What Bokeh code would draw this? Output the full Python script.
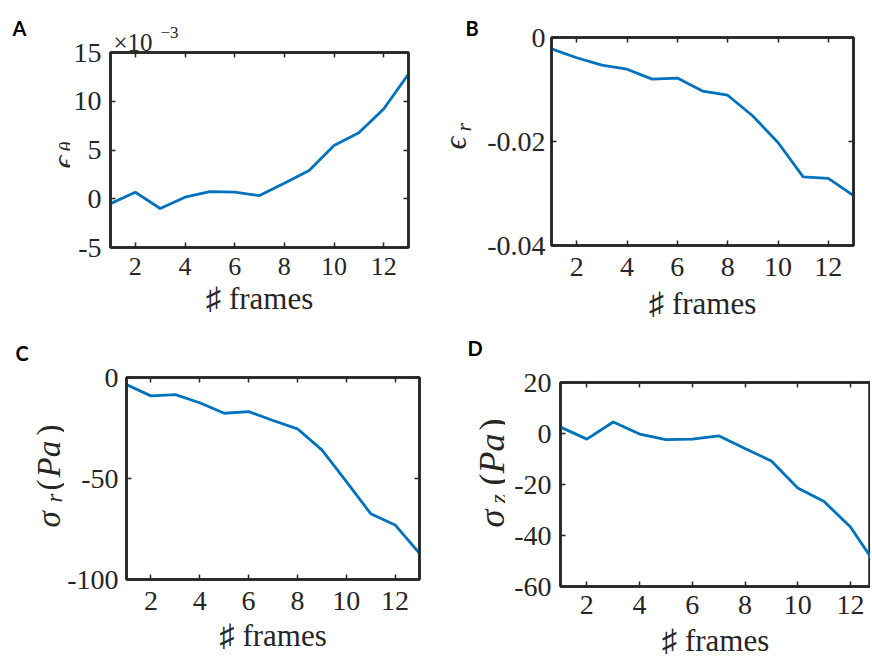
import math
from bokeh.plotting import figure
from bokeh.models import Label, LinearAxis, FixedTicker, Range1d
from bokeh.layouts import row, column
from bokeh.embed import file_html
from bokeh.resources import INLINE

# ---------------- data ----------------
frames = [1, 2, 3, 4, 5, 6, 7, 8, 9, 10, 11, 12, 13]
eps_theta_e3 = [-0.5, 0.67, -1.0, 0.16, 0.74, 0.67, 0.33, 1.6, 2.9, 5.46, 6.76, 9.2, 12.8]   # x 10^-3
eps_r = [-0.0022, -0.0039, -0.0053, -0.0061, -0.0080, -0.0078, -0.0103, -0.0111,
         -0.0151, -0.0202, -0.0268, -0.0271, -0.0304]
sigma_r = [-3.5, -9.1, -8.5, -12.5, -17.7, -16.9, -21.3, -25.4, -35.8, -51.4, -67.4, -73.0, -87.0]
sigma_z = [2.5, -2.2, 4.5, -0.2, -2.4, -2.2, -0.9, -5.9, -10.8, -21.4, -26.7, -36.7, -52.0]

x_tick_values = [2, 4, 6, 8, 10, 12]
x_tick_labels = ["2", "4", "6", "8", "10", "12"]
a_ytick_values = [-5, 0, 5, 10, 15]
a_ytick_labels = ["-5", "0", "5", "10", "15"]
b_ytick_values = [-0.04, -0.02, 0]
b_ytick_labels = ["-0.04", "-0.02", "0"]
c_ytick_values = [-100, -50, 0]
c_ytick_labels = ["-100", "-50", "0"]
d_ytick_values = [-60, -40, -20, 0, 20]
d_ytick_labels = ["-60", "-40", "-20", "0", "20"]

x_label = "\u266f frames"
panel_letters = ["A", "B", "C", "D"]

FRAME = "#262626"
LINE = "#0072BD"
SERIF = "Liberation Serif"
SANS_BOLD = "Lato"
HALF = math.pi / 2


def style_axis(ax, ticks, labels, size, standoff, show=True):
    ax.ticker = FixedTicker(ticks=ticks)
    ax.major_tick_in = 5
    ax.major_tick_out = 0
    ax.major_tick_line_color = FRAME
    ax.major_tick_line_width = 1.5
    ax.minor_tick_line_color = None
    ax.axis_line_color = FRAME
    ax.axis_line_width = 2.5
    ax.major_label_text_font = SERIF
    if show:
        ax.major_label_overrides = {t: s for t, s in zip(ticks, labels)}
        ax.major_label_text_color = FRAME
        ax.major_label_text_font_size = size
        ax.major_label_standoff = standoff
    else:
        ax.major_label_text_color = None
        ax.major_label_text_font_size = "0px"
        ax.major_label_standoff = 0


def lab(text, x, y, size, style="normal", font=SERIF, angle=0.0):
    # x, y in canvas pixels (from the top-left corner of the figure)
    return Label(x=x, y=y, x_units="canvas", y_units="canvas", text=text,
                 text_font=font, text_font_size=size, text_font_style=style,
                 text_color=FRAME if font == SERIF else "black",
                 angle=angle, text_align="left", text_baseline="alphabetic")


def strip(width, height, above, below):
    """A blank figure that only carries the panel letter and the y-axis title."""
    s = figure(width=width, height=height, x_range=Range1d(0, 1), y_range=Range1d(0, 1),
               x_axis_type=None, y_axis_type=None, output_backend="svg",
               toolbar_location=None, min_border=0)
    s.grid.visible = False
    s.outline_line_color = None
    s.background_fill_color = "white"
    s.border_fill_color = "white"
    for item in above:
        s.add_layout(item, "above")
    for item in below:
        s.add_layout(item, "below")
    return s


def make_panel(width, height, borders, x_end, y_rng, yticks, ylabels, data,
               xtick_size="28px", ytick_size="28px", xtick_standoff=12,
               xlabel_standoff=5, ytick_standoff=9, right_axis=True):
    l, r, t, b = borders
    p = figure(width=width, height=height,
               x_range=Range1d(1, x_end), y_range=Range1d(*y_rng),
               output_backend="svg", toolbar_location=None,
               min_border_left=l, min_border_right=r,
               min_border_top=t, min_border_bottom=b)
    p.grid.visible = False
    p.background_fill_color = "white"
    p.border_fill_color = "white"
    p.outline_line_color = FRAME
    p.outline_line_width = 2.5
    p.outline_line_alpha = 1.0
    p.line(frames, data, line_color=LINE, line_width=2.8)

    xa = p.xaxis[0]
    style_axis(xa, x_tick_values, x_tick_labels, xtick_size, xtick_standoff)
    xa.axis_label = x_label
    xa.axis_label_text_font = SERIF
    xa.axis_label_text_font_style = "normal"
    xa.axis_label_text_font_size = "31px"
    xa.axis_label_text_color = FRAME
    xa.axis_label_standoff = xlabel_standoff

    ya = p.yaxis[0]
    style_axis(ya, yticks, ylabels, ytick_size, ytick_standoff)

    top = LinearAxis()
    style_axis(top, x_tick_values, x_tick_labels, "0px", 0, show=False)
    p.add_layout(top, "above")
    if right_axis:
        rt = LinearAxis()
        style_axis(rt, yticks, ylabels, "0px", 0, show=False)
        p.add_layout(rt, "right")
    return p


# ---------------- panel A (page x 0..438, y 0..328) ----------------
sA = strip(70, 328,
           [lab(panel_letters[0], 12, 27, "20px", "bold", SANS_BOLD),
            lab("\u03f5", 62, 168, "32px", "italic", angle=HALF)],
           [lab("\u03b8", 66, 151, "20px", "italic", angle=HALF)])
pA = make_panel(368, 328, (40, 30, 52, 81), 13, (-5, 15), a_ytick_values, a_ytick_labels,
                eps_theta_e3, xtick_size="26px", xtick_standoff=10, xlabel_standoff=3)
pA.add_layout(lab("\u00d710", 43, 42, "25px"), "above")
pA.add_layout(lab("\u22123", 90, 32, "17px"), "right")

# ---------------- panel C (page x 0..438, y 328..667) ----------------
sC = strip(64, 339,
           [lab(panel_letters[2], 15, 24, "20px", "bold", SANS_BOLD),
            lab("\u03c3", 48, 199, "33px", "italic", angle=HALF),
            lab("r", 54, 174, "23px", "italic", angle=HALF)],
           [lab("(", 48, 162, "33px", "normal", angle=HALF),
            lab("Pa", 48, 149, "33px", "italic", angle=HALF),
            lab(")", 48, 107, "33px", "normal", angle=HALF)])
pC = make_panel(374, 339, (62, 19, 44, 88), 13, (-100, 0), c_ytick_values, c_ytick_labels,
                sigma_r, xtick_standoff=12, xlabel_standoff=5, ytick_standoff=8)

# ---------------- panel B (page x 438..870, y 0..331) ----------------
sB = strip(46, 331,
           [lab(panel_letters[1], 27, 27, "20px", "bold", SANS_BOLD),
            lab("\u03f5", 16, 149, "32px", "italic", angle=HALF)],
           [lab("r", 25, 131, "22px", "italic", angle=HALF)])
pB = make_panel(386, 331, (65, 17, 23, 86), 13, (-0.04, 0), b_ytick_values, b_ytick_labels,
                eps_r, xtick_standoff=12, xlabel_standoff=7, ytick_standoff=6)

# ---------------- panel D (page x 438..870, y 331..667) ----------------
sD = strip(67, 336,
           [lab(panel_letters[3], 29, 16, "20px", "bold", SANS_BOLD),
            lab("\u03c3", 53, 196, "36px", "italic", angle=HALF),
            lab("z", 59, 172, "24px", "italic", angle=HALF)],
           [lab("(", 53, 154, "36px", "normal", angle=HALF),
            lab("Pa", 53, 142, "36px", "italic", angle=HALF),
            lab(")", 53, 99, "36px", "normal", angle=HALF)])
pD = make_panel(365, 336, (55, 0, 28, 81), 12.76, (-60, 20), d_ytick_values, d_ytick_labels,
                sigma_z, xtick_standoff=9, xlabel_standoff=6, right_axis=False)

layout = row(column(row(sA, pA), row(sC, pC)), column(row(sB, pB), row(sD, pD)))

with open("out.html", "w") as f:
    f.write(file_html(layout, INLINE, "strain and stress"))
